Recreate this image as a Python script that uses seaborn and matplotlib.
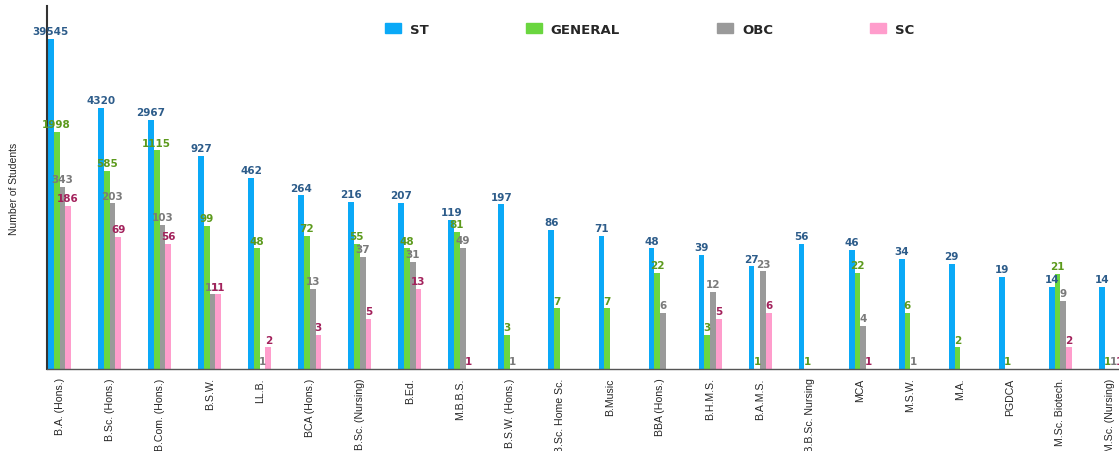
import pandas as pd
import matplotlib
matplotlib.use("Agg")
import matplotlib.pyplot as plt
import seaborn as sns

# Course list and student counts per category (None = no students)
courses = ["B.A. (Hons.)", "B.Sc. (Hons.)", "B.Com. (Hons.)", "B.S.W.", "LL.B.",
           "BCA (Hons.)", "B.Sc. (Nursing)", "B.Ed.", "M.B.B.S.", "B.S.W. (Hons.)",
           "B.Sc. Home Sc.", "B.Music", "BBA (Hons.)", "B.H.M.S.", "B.A.M.S.",
           "P.B.B.Sc. Nursing", "MCA", "M.S.W.", "M.A.", "PGDCA",
           "M.Sc. Biotech.", "M.Sc. (Nursing)"]
st = [39545, 4320, 2967, 927, 462, 264, 216, 207, 119, 197, 86, 71, 48, 39, 27,
      56, 46, 34, 29, 19, 14, 14]
general = [1998, 585, 1115, 99, 48, 72, 55, 48, 81, 3, 7, 7, 22, 3, 1,
           1, 22, 6, 2, 1, 21, 1]
obc = [343, 203, 103, 11, 1, 13, 37, 31, 49, 1, None, None, 6, 12, 23,
       None, 4, 1, None, None, 9, 1]
sc = [186, 69, 56, 11, 2, 3, 5, 13, 1, None, None, None, None, 5, 6,
      None, 1, None, None, None, 2, 1]

categories = ["ST", "GENERAL", "OBC", "SC"]
bar_colors = ["#0aa9f7", "#6ad63f", "#9a9a9a", "#ff9dcc"]
label_colors = ["#2d5c8a", "#5c9a1c", "#7a7a7a", "#a3225c"]

# Long format table for seaborn
rows = []
for cat, vals in zip(categories, [st, general, obc, sc]):
    for c, v in zip(courses, vals):
        if v is not None:
            rows.append([c, cat, v])
df = pd.DataFrame(rows, columns=["course", "category", "students"])

sns.set_style("white")
plt.rcParams["font.family"] = ["Liberation Sans", "DejaVu Sans"]

fig = plt.figure(figsize=(11.19, 4.52), dpi=100)
ax = fig.add_axes([47 / 1119, 82 / 452, 1 - 47 / 1119, 363 / 452])
ax.set_yscale("log")

sns.barplot(data=df, x="course", y="students", hue="category", order=courses,
            hue_order=categories, palette=bar_colors, width=0.46, dodge=True,
            linewidth=0, saturation=1, legend=False, ax=ax, errorbar=None)

ax.set_ylim(1, 115000)
ax.set_xlim(-0.25, 21.17)

# value labels above bars (round heights, log scale gives 4319.999...)
for cont, col in zip(ax.containers, label_colors):
    labels = [f"{round(b.get_height())}" for b in cont]
    ax.bar_label(cont, labels=labels, padding=2, color=col, fontsize=7.5,
                 fontweight="bold", family="DejaVu Sans")

ax.set_yticks([])
ax.yaxis.set_minor_locator(matplotlib.ticker.NullLocator())
ax.set_ylabel("Number of Students", fontsize=7.5, labelpad=20)
ax.set_xlabel("")
ax.tick_params(axis="x", length=0, pad=6, labelsize=7.6)
plt.setp(ax.get_xticklabels(), rotation=90, ha="center", va="top")

for s in ["top", "right"]:
    ax.spines[s].set_visible(False)
ax.spines["left"].set_color("#333333")
ax.spines["left"].set_linewidth(1.5)
ax.spines["bottom"].set_color("#555555")
ax.spines["bottom"].set_linewidth(1)

# legend on top
handles = [plt.Rectangle((0, 0), 1, 1, color=c) for c in bar_colors]
fig.legend(handles, categories, loc="center left",
           bbox_to_anchor=(385 / 1119, 1 - 30 / 452), ncol=4, frameon=False,
           borderpad=0, borderaxespad=0, handlelength=1.2, handleheight=0.8,
           handletextpad=0.7, columnspacing=7.35,
           prop={"family": "DejaVu Sans", "weight": "bold", "size": 9.5})

fig.savefig("out.png", dpi=100)
